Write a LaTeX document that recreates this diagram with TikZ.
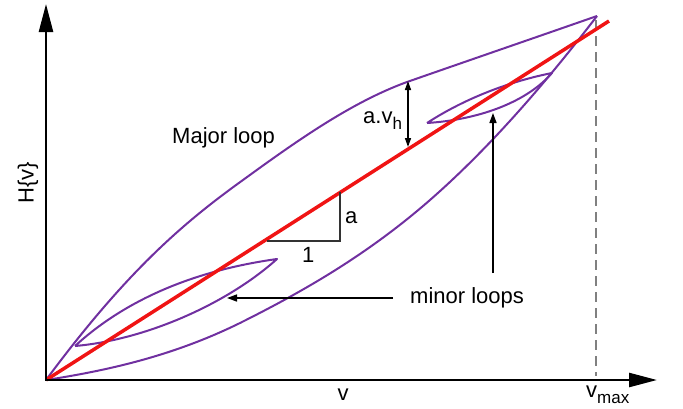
\documentclass[tikz,border=0pt]{standalone}
\usepackage{fontspec}
\setmainfont{Liberation Sans}
\usetikzlibrary{arrows.meta}
\definecolor{loopc}{HTML}{7030A0}
\definecolor{redc}{RGB}{240,20,20}
\begin{document}
\begin{tikzpicture}[x=1pt,y=-1pt,
  lbl/.style={font=\fontsize{22}{26}\selectfont, inner sep=0pt},
  axisline/.style={line width=2.5pt, black, -{Triangle[length=28pt,width=14pt]}},
  loopline/.style={line width=2pt, loopc, line join=round},
  pointer/.style={line width=1.5pt, black, -{Triangle[length=10pt,width=7pt]}},
  dim/.style={line width=1.5pt, black, {Triangle[length=9pt,width=6pt]}-{Triangle[length=9pt,width=6pt]}},
  slope/.style={line width=1.5pt, black!80},
  guide/.style={line width=2pt, black!50, dash pattern=on 10pt off 6pt}]
\useasboundingbox (0,0) rectangle (683,408);
% coordinates
\coordinate (O) at (46,380);
\coordinate (ytip) at (46,4);
\coordinate (xtip) at (657,380);
\coordinate (T) at (597,16);
\coordinate (vmaxtop) at (596,20);
\coordinate (vmaxbot) at (596,376);
\coordinate (redend) at (609,21);
% dashed guide
\draw[guide] (vmaxtop) -- (vmaxbot);
% major loop
\draw[loopline] (O) .. controls (126,272) and (183,223) .. (243,180)
  .. controls (298,140) and (352,102) .. (407,82)
  .. controls (470,60) and (534,38) .. (T);
\draw[loopline] (O) .. controls (111,370) and (175,355) .. (240,323)
  .. controls (303,291.5) and (367,255) .. (430,200)
  .. controls (486,151) and (541,89) .. (T);
% minor loop 1
\coordinate (m1a) at (75,346);
\coordinate (m1b) at (277,259);
\draw[loopline] (m1a) .. controls (135,291) and (212,268) .. (m1b)
  .. controls (227,304) and (145,340) .. (m1a);
% minor loop 2
\coordinate (m2a) at (427,123);
\coordinate (m2b) at (552,73);
\draw[loopline] (m2a) .. controls (467,97) and (512,81) .. (m2b)
  .. controls (525,104) and (475,120) .. (m2a);
% red line
\draw[line width=3.5pt, redc] (O) -- (redend);
% slope triangle
\coordinate (s1) at (267,241);
\coordinate (s2) at (340,241);
\coordinate (s3) at (340,192);
\draw[slope] (s1) -- (s2) -- (s3);
% axes
\draw[axisline] (O) -- (ytip);
\draw[axisline] ([xshift=-1.25pt]O) -- (xtip);
% a.v_h dimension
\coordinate (d1) at (408,81);
\coordinate (d2) at (408,147);
\draw[dim] (d1) -- (d2);
% pointers
\coordinate (p1s) at (393,298);
\coordinate (p1e) at (227,298);
\coordinate (p2s) at (493,273);
\coordinate (p2e) at (493,113);
\draw[pointer] (p1s) -- (p1e);
\draw[pointer] (p2s) -- (p2e);
% labels
\node[lbl, anchor=base west] (major) at (172,143) {Major loop};
\node[lbl, anchor=base west] (minor) at (410,303) {minor loops};
\node[lbl, anchor=base west] (la) at (345,223) {a};
\node[lbl, anchor=base west] (lone) at (302,262) {1};
\node[lbl, anchor=base west] (lavh) at (363,123) {a.v\raisebox{-6pt}{\fontsize{17}{20}\selectfont h}};
\node[lbl, anchor=base] (lv) at (343,400) {v};
\node[lbl, anchor=base west] (lvmax) at (586,397) {v\raisebox{-6pt}{\fontsize{17}{20}\selectfont max}};
\node[lbl, rotate=90] (lH) at (28,183) {H\{v\}};
\end{tikzpicture}
\end{document}
